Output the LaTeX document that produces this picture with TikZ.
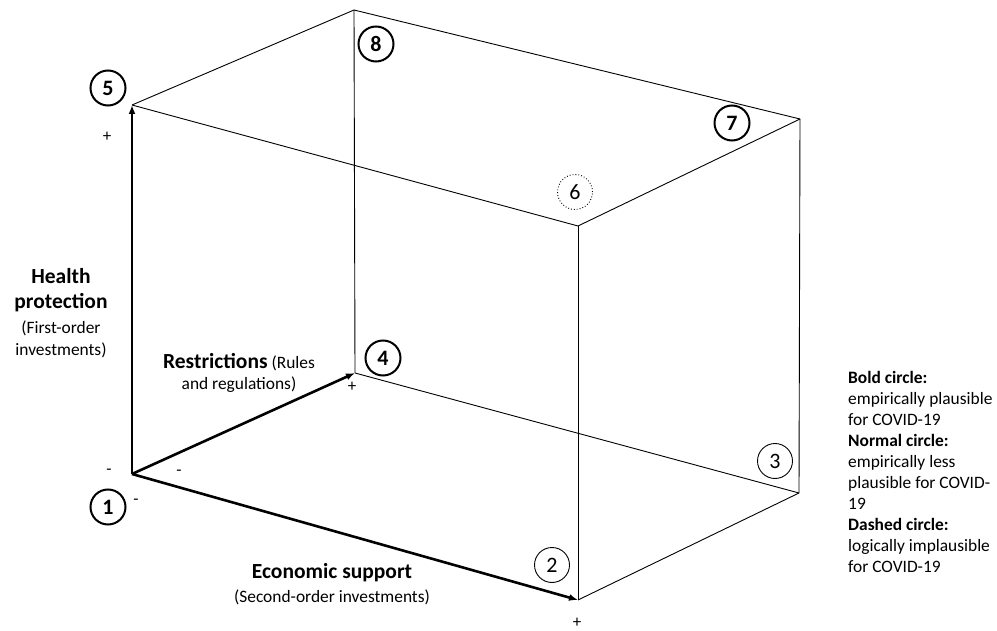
\documentclass[tikz,border=0pt]{standalone}
\usepackage{fontspec}
\setmainfont{Carlito}
\usetikzlibrary{arrows.meta}
\begin{document}
\begin{tikzpicture}[x=1pt,y=-1pt,
  thinedge/.style={line width=0.9pt},
  axis/.style={line width=2.6pt,-{Latex[length=9pt,width=7pt]}},
  cbold/.style={circle,draw,line width=2pt,minimum size=35pt,inner sep=0pt,font=\fontsize{22}{22}\selectfont\bfseries},
  cnorm/.style={circle,draw,line width=0.9pt,minimum size=35pt,inner sep=0pt,font=\fontsize{22}{22}\selectfont},
  cdot/.style={circle,draw,line width=0.9pt,dotted,minimum size=35pt,inner sep=0pt,font=\fontsize{22}{22}\selectfont},
  sign/.style={font=\fontsize{17}{17}\selectfont,inner sep=0pt},
  bigb/.style={align=center,inner sep=0pt,font=\fontsize{21.5}{25}\selectfont\bfseries},
  small/.style={align=center,inner sep=0pt,font=\fontsize{17.4}{22}\selectfont}
]
\useasboundingbox (0,0) rectangle (997,631);
% corners
\coordinate (O) at (132,474);
\coordinate (P5) at (132,105);
\coordinate (P2) at (578,600);
\coordinate (P4) at (355,373);
\coordinate (P8) at (354,10);
\coordinate (P6) at (578,226);
\coordinate (P7) at (800,119);
\coordinate (P3) at (799,493);
% thin edges
\draw[thinedge] (P5) -- (P6);
\draw[thinedge] (P5) -- (P8);
\draw[thinedge] (P8) -- (P7);
\draw[thinedge] (P8) -- (P4);
\draw[thinedge] (P6) -- (P7);
\draw[thinedge] (P6) -- (P2);
\draw[thinedge] (P7) -- (P3);
\draw[thinedge] (P4) -- (P3);
\draw[thinedge] (P2) -- (P3);
% axes
\draw[axis] (O) -- (P5);
\draw[axis] (O) -- (P2);
\draw[axis] (O) -- (P4);
% circles
\node[cbold] (n1) at (108,507) {1};
\node[cnorm] (n2) at (552,565) {2};
\node[cnorm] (n3) at (775,461) {3};
\node[cbold] (n4) at (383,358) {4};
\node[cbold] (n5) at (108,88) {5};
\node[cdot] (n6) at (575,192) {6};
\node[cbold] (n7) at (732,123) {7};
\node[cbold] (n8) at (376,44) {8};
% signs
\node[sign] (s5) at (107,137) {+};
\node[sign] (s1a) at (109,472) {-};
\node[sign] (s1b) at (179,473) {-};
\node[sign] (s1c) at (136,502) {-};
\node[sign] (s4) at (352,387) {+};
\node[sign] (s2) at (577,623) {+};
% labels
\node[bigb] (health) at (61,290) {Health\\protection};
\node[small] (healthsub) at (61,339) {(First-order\\investments)};
\node[small,anchor=base] (restr1) at (239,368) {{\fontsize{21.5}{21.5}\selectfont\bfseries Restrictions} (Rules};
\node[small,anchor=base] (restr2) at (239,389) {and regulations)};
\node[bigb] (econ) at (332,573) {Economic support};
\node[small] (econsub) at (332,597) {(Second-order investments)};
\node[align=left,anchor=north west,inner sep=0pt,font=\fontsize{17.4}{21}\selectfont] (legend) at (848,371) {\textbf{Bold circle:}\\empirically plausible\\for COVID-19\\\textbf{Normal circle:}\\empirically less\\plausible for COVID-\\19\\\textbf{Dashed circle:}\\logically implausible\\for COVID-19};
\end{tikzpicture}
\end{document}
